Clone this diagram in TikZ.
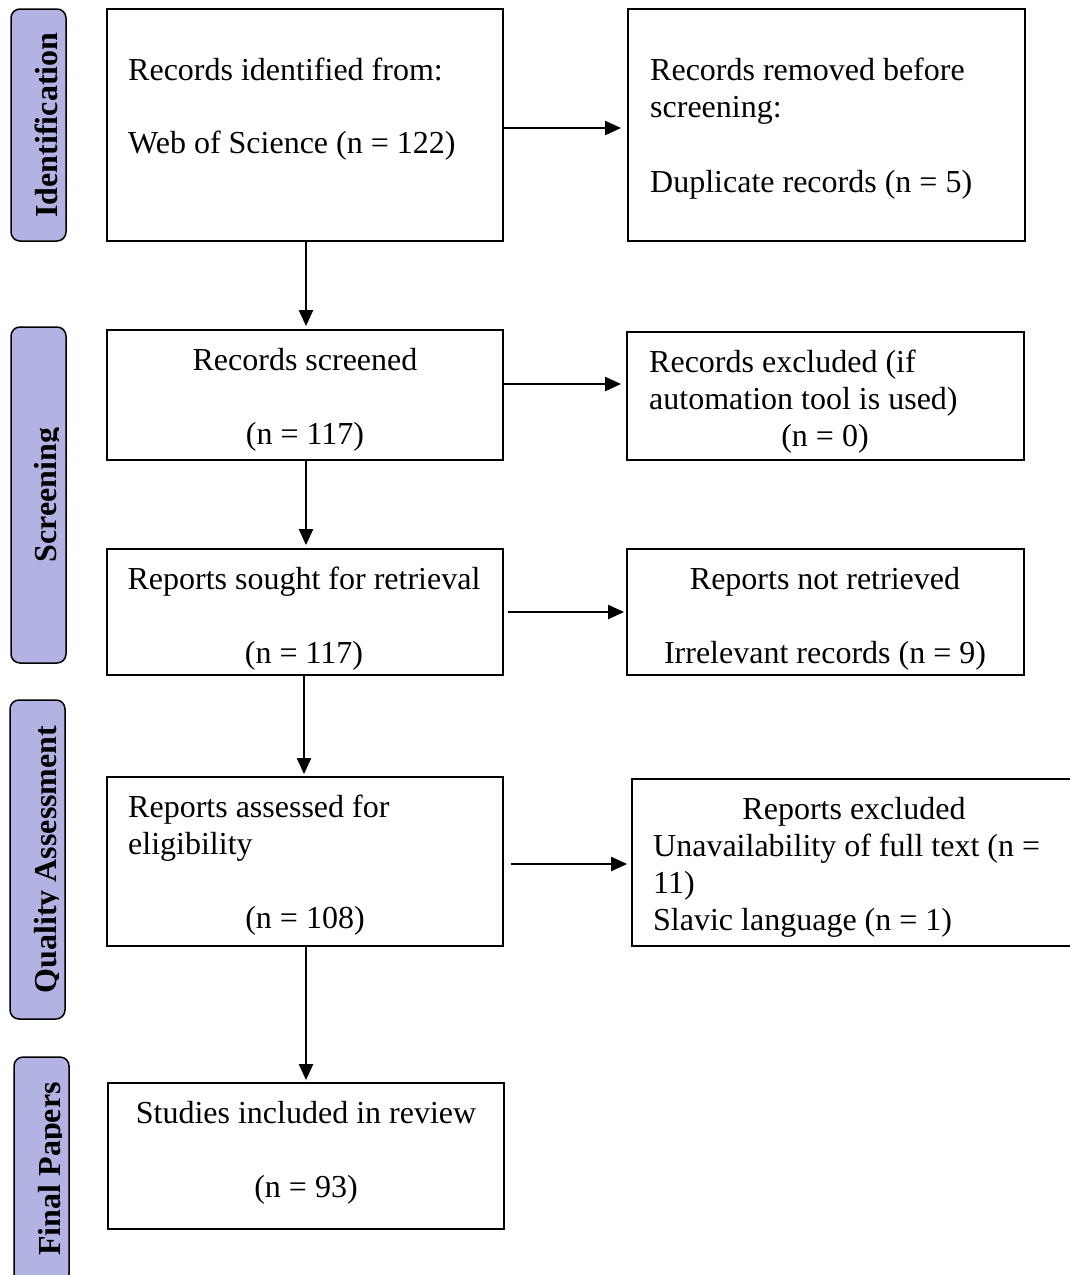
\documentclass[tikz,border=0pt]{standalone}
\usepackage{fontspec}
\setmainfont{Liberation Serif}
\usetikzlibrary{arrows.meta}
\definecolor{stagefill}{RGB}{179,179,227}
\tikzset{
  box/.style={draw, line width=1.8pt, inner sep=0pt},
  stage/.style={draw, line width=1.5pt, fill=stagefill, rounded corners=9pt, inner sep=0pt, minimum width=55pt},
  stagetext/.style={font=\fontsize{32}{37}\selectfont\bfseries, rotate=90, anchor=base, inner sep=0pt},
  txt/.style={font=\fontsize{32}{37}\selectfont, inner sep=0pt},
  flow/.style={line width=2.2pt, -{Triangle[length=16pt,width=14pt]}},
}
\begin{document}
\begin{tikzpicture}[x=1pt,y=-1pt]
	\useasboundingbox (0,0) rectangle (1069,1275);
	% stages on the left
	\node[stage, minimum height=232pt] (idstage) at (38.5,125) {};
	\node[stage, minimum height=336pt] (scrstage) at (38.5,495) {};
	\node[stage, minimum height=319pt] (qastage) at (37.5,859.5) {};
	\node[stage, minimum height=226pt] (fpstage) at (41.5,1170) {};
	\begin{scope}
		\clip (0,0) rectangle (58.5,1275);
		\node[stagetext] (idlabel) at (57,125) {Identification};
		\node[stagetext] (scrlabel) at (56.5,495) {Screening};
		\node[stagetext] (qalabel) at (56,859.5) {Quality Assessment};
	\end{scope}
	\begin{scope}
		\clip (0,0) rectangle (61.5,1275);
		\node[stagetext] (fplabel) at (60,1169) {Final Papers};
	\end{scope}
	% boxes
	\node[box, minimum width=396pt, minimum height=232pt] (ident) at (305,125) {};
	\node[box, minimum width=397pt, minimum height=232pt] (removed) at (826.5,125) {};
	\node[box, minimum width=396pt, minimum height=130pt] (screened) at (305,395) {};
	\node[box, minimum width=397pt, minimum height=128pt] (autoexcl) at (825.5,396) {};
	\node[box, minimum width=396pt, minimum height=126pt] (sought) at (305,612) {};
	\node[box, minimum width=397pt, minimum height=126pt] (notret) at (825.5,612) {};
	\node[box, minimum width=396pt, minimum height=169pt] (assessed) at (305,861.5) {};
	\node[box, minimum width=443pt, minimum height=167pt] (repexcl) at (853.5,862.5) {};
	\node[box, minimum width=396pt, minimum height=146pt] (included) at (306,1156) {};
	% texts
	\node[txt, anchor=north west, align=left] (tident) at (128,58) {Records identified from:\\[36pt]Web of Science (n = 122)};
	\node[txt, anchor=north west, align=left] (tremoved) at (650,58) {Records removed before\\screening:\\[38pt]Duplicate records (n = 5)};
	\node[txt, anchor=north, align=center] (tscreened) at (305,348) {Records screened\\[37pt](n = 117)};
	\node[txt, anchor=north west, align=left] (tautoexcl) at (649,350) {Records excluded (if\\automation tool is used)};
	\node[txt, anchor=north] (tautoexcln) at (825,424) {(n = 0)};
	\node[txt, anchor=north, align=center] (tsought) at (304,567) {Reports sought for retrieval\\[37pt](n = 117)};
	\node[txt, anchor=north, align=center] (tnotret) at (825,567) {Reports not retrieved\\[37pt]Irrelevant records (n = 9)};
	\node[txt, anchor=north west, align=left] (tassessed) at (128,795) {Reports assessed for\\eligibility};
	\node[txt, anchor=north] (tassessedn) at (305,906) {(n = 108)};
	\node[txt, anchor=north] (trepexcl) at (854,797) {Reports excluded};
	\node[txt, anchor=north west, align=left] (trepexcll) at (653,834) {Unavailability of full text (n =\\11)\\Slavic language (n = 1)};
	\node[txt, anchor=north, align=center] (tincluded) at (306,1101) {Studies included in review\\[37pt](n = 93)};
	% arrows
	\draw[flow, shorten >=3pt] ([xshift=1pt]ident.south) -- ([xshift=1pt]ident.south |- screened.north);
	\draw[flow, shorten >=3pt] ([xshift=1pt]screened.south) -- ([xshift=1pt]screened.south |- sought.north);
	\draw[flow, shorten >=2pt] ([xshift=-1pt]sought.south) -- ([xshift=-1pt]sought.south |- assessed.north);
	\draw[flow, shorten >=2pt] (assessed.south -| included.north) -- (included.north);
	\draw[flow, shorten >=6pt] ([yshift=-3pt]ident.east) -- ([yshift=-3pt]ident.east -| removed.west);
	\draw[flow, shorten >=5pt] ([yshift=11pt]screened.east) -- ([yshift=11pt]screened.east -| autoexcl.west);
	\draw[flow, shorten <=4pt, shorten >=2pt] (sought.east) -- (sought.east -| notret.west);
	\draw[flow, shorten <=7pt, shorten >=4pt] ([yshift=-2.5pt]assessed.east) -- ([yshift=-2.5pt]assessed.east -| repexcl.west);
\end{tikzpicture}
\end{document}
